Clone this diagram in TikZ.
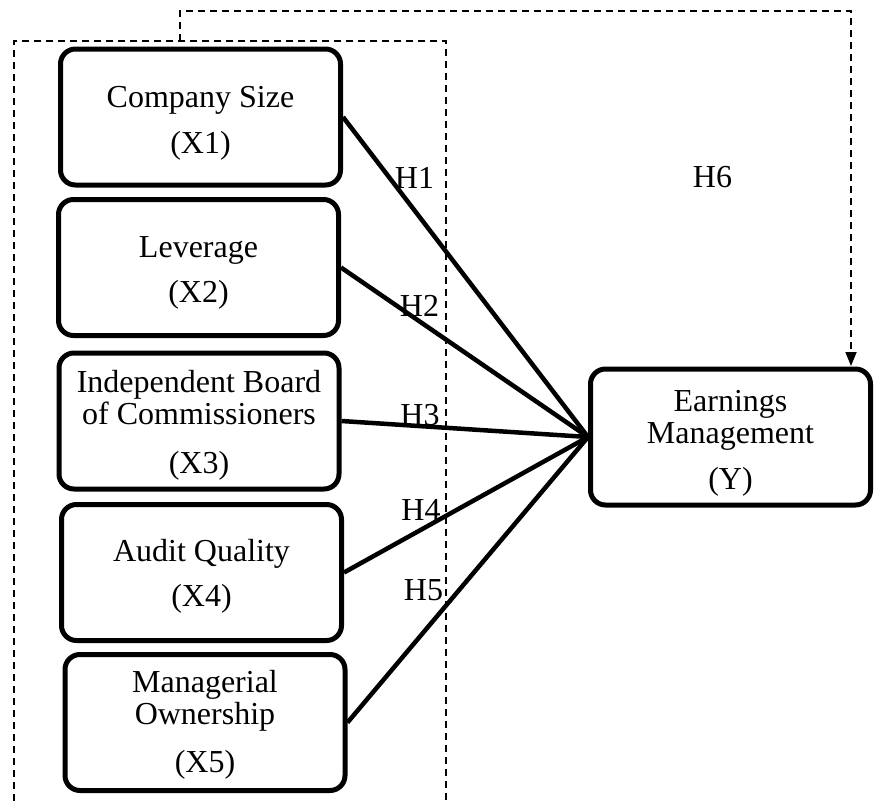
\documentclass[tikz,border=0pt]{standalone}
\usepackage{fontspec}
\setmainfont{Liberation Serif}
\usetikzlibrary{arrows.meta}
\begin{document}
\begin{tikzpicture}[x=1pt,y=-1pt,
  varbox/.style={draw, line width=5pt, rounded corners=15pt, minimum width=280pt, minimum height=136pt, inner sep=0pt},
  boxtext/.style={inner sep=0pt, align=center, font=\fontsize{32}{32}\selectfont},
  link/.style={line width=4.5pt},
  hlabel/.style={font=\fontsize{32}{32}\selectfont, inner sep=0pt},
  dashline/.style={line width=1.8pt, dash pattern=on 7pt off 5pt}
]
\useasboundingbox (0,0) rectangle (876,801);
\node[varbox] (b1) at (200.5,117) {};
\node[varbox] (b2) at (198.5,267.5) {};
\node[varbox] (b3) at (199,421) {};
\node[varbox] (b4) at (201.5,572.5) {};
\node[varbox] (b5) at (205,722.5) {};
\node[varbox] (ey) at (730.5,437) {};
\node[boxtext] (t1) at ([yshift=-6pt]b1.center) {Company Size\\[14pt](X1)};
\node[boxtext] (t2) at ([yshift=-5pt]b2.center) {Leverage\\[13pt](X2)};
\node[boxtext] (t3) at ([yshift=-4pt]b3.center) {Independent Board\\of Commissioners\\[17pt](X3)};
\node[boxtext] (t4) at ([yshift=-4pt]b4.center) {Audit Quality\\[13pt](X4)};
\node[boxtext] (t5) at ([yshift=-2pt]b5.center) {Managerial\\Ownership\\[16pt](X5)};
\node[boxtext] (ty) at ([yshift=-6pt]ey.center) {Earnings\\Management\\[14pt](Y)};
\coordinate (tl) at (14,41);
\coordinate (tr) at (446,41);
\coordinate (bl) at (14,801);
\coordinate (br) at (446,801);
\coordinate (up) at (180,41);
\draw[dashline] (bl) -- (tl) -- (tr) -- (br);
\draw[dashline, -{Triangle[length=14pt,width=11pt]}] (up) -- (180,11) -- (851,11) -- (851,366);
\draw[link] (b1.east) -- (ey.west);
\draw[link] (b2.east) -- (ey.west);
\draw[link] (b3.east) -- (ey.west);
\draw[link] (b4.east) -- (ey.west);
\draw[link] (b5.east) -- (ey.west);
\node[hlabel] (h1) at (414.5,177.5) {H1};
\node[hlabel] (h2) at (419.5,305.5) {H2};
\node[hlabel] (h3) at (420,415.5) {H3};
\node[hlabel] (h4) at (421,510) {H4};
\node[hlabel] (h5) at (423.5,590) {H5};
\node[hlabel] (h6) at (712.5,177.5) {H6};
\end{tikzpicture}
\end{document}
